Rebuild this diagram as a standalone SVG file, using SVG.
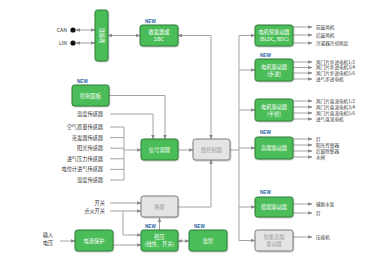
<svg xmlns="http://www.w3.org/2000/svg" width="378" height="258" viewBox="0 0 378 258">
<defs>
<marker id="ah" viewBox="0 0 6 6" refX="5.5" refY="3" markerWidth="4.5" markerHeight="4.5" markerUnits="userSpaceOnUse" orient="auto-start-reverse">
<path d="M0,0.5 L6,3 L0,5.5 z" fill="#8a8a8a"/>
</marker>
<filter id="sh" x="-10%" y="-10%" width="130%" height="140%">
<feDropShadow dx="0.6" dy="0.8" stdDeviation="0.6" flood-color="#000" flood-opacity="0.25"/>
</filter>
</defs>
<style>
text{font-family:"Noto Sans CJK SC","Liberation Sans",sans-serif;}
.g{fill:#4cbd58;stroke:#2c7a36;stroke-width:1;filter:url(#sh);}
.gr{fill:#e4e4e4;stroke:#7a7a7a;stroke-width:1;filter:url(#sh);}
.wt{fill:#fff;font-size:5.2px;text-anchor:middle;}
.gt{fill:#9a9a9a;font-size:5.2px;text-anchor:middle;}
.lbl{fill:#333;font-size:5.2px;}
.out{fill:#333;font-size:4.6px;}
.r{text-anchor:end;}
.new{fill:#1f5fa6;font-size:4.6px;font-weight:bold;font-family:"Liberation Sans",sans-serif;}
.c{fill:none;stroke:#9a9a9a;stroke-width:0.9;}
.a{marker-end:url(#ah);}
.b{marker-start:url(#ah);marker-end:url(#ah);}
</style>
<rect width="378" height="258" fill="#fff"/>

<g id="connectors">
<line class="c b" x1="76" y1="30" x2="95" y2="30"/>
<line class="c b" x1="76" y1="43" x2="95" y2="43"/>
<line class="c b" x1="108" y1="35.5" x2="140" y2="35.5"/>
<path class="c b" d="M178,35.5 H211 V139"/>
<path class="c a" d="M109,95.5 H165 V139"/>
<path class="c a" d="M110,114 H153 V139"/>
<path class="c" d="M110,127 H124 M110,137.6 H124 M110,148.2 H124 M110,158.8 H124 M110,169.4 H124 M110,180 H124 M124,127 V180"/>
<line class="c a" x1="124" y1="150" x2="141" y2="150"/>
<line class="c a" x1="178" y1="150" x2="193" y2="150"/>
<path class="c" d="M230,150 H239 M239,35.5 V240.5"/>
<line class="c a" x1="239" y1="35.5" x2="255" y2="35.5"/>
<line class="c a" x1="239" y1="70" x2="255" y2="70"/>
<line class="c a" x1="239" y1="110" x2="255" y2="110"/>
<line class="c a" x1="239" y1="148" x2="255" y2="148"/>
<line class="c a" x1="239" y1="207" x2="255" y2="207"/>
<line class="c a" x1="239" y1="240.5" x2="255" y2="240.5"/>
<g>
<line class="c a" x1="293" y1="27" x2="312" y2="27"/>
<line class="c a" x1="293" y1="35" x2="312" y2="35"/>
<line class="c a" x1="293" y1="43" x2="312" y2="43"/>
<line class="c a" x1="293" y1="62" x2="312" y2="62"/>
<line class="c a" x1="293" y1="67.5" x2="312" y2="67.5"/>
<line class="c a" x1="293" y1="73" x2="312" y2="73"/>
<line class="c a" x1="293" y1="79" x2="312" y2="79"/>
<line class="c a" x1="293" y1="101" x2="312" y2="101"/>
<line class="c a" x1="293" y1="107" x2="312" y2="107"/>
<line class="c a" x1="293" y1="113" x2="312" y2="113"/>
<line class="c a" x1="293" y1="119" x2="312" y2="119"/>
<line class="c a" x1="293" y1="139" x2="312" y2="139"/>
<line class="c a" x1="293" y1="145" x2="312" y2="145"/>
<line class="c a" x1="293" y1="151" x2="312" y2="151"/>
<line class="c a" x1="293" y1="157" x2="312" y2="157"/>
<line class="c a" x1="293" y1="204" x2="312" y2="204"/>
<line class="c a" x1="293" y1="213" x2="312" y2="213"/>
<line class="c a" x1="293" y1="237" x2="312" y2="237"/>
</g>
<line class="c a" x1="110" y1="203" x2="141" y2="203"/>
<line class="c a" x1="110" y1="211" x2="141" y2="211"/>
<path class="c a" d="M123,211 V235 H141"/>
<path class="c a" d="M178,207 H211 V160"/>
<line class="c a" x1="60" y1="241" x2="75" y2="241"/>
<line class="c a" x1="113" y1="245" x2="141" y2="245"/>
<line class="c a" x1="159.5" y1="230" x2="159.5" y2="218"/>
<line class="c b" x1="178" y1="241" x2="189" y2="241"/>
</g>

<g id="bus-labels">
<text class="lbl r" x="67" y="32">CAN</text>
<circle cx="73" cy="30" r="2.6" fill="#111"/>
<text class="lbl r" x="67" y="45">LIN</text>
<circle cx="73" cy="43" r="2.6" fill="#111"/>
</g>

<g id="connector">
<rect class="g" x="95" y="10" width="13" height="51" rx="2.5"/>
<text class="wt" transform="translate(101.5,35.5) rotate(90)" y="2">连接器</text>
</g>

<g id="sbc">
<text class="new" x="145" y="23">NEW</text>
<rect class="g" x="140" y="25" width="38" height="21" rx="2.5"/>
<text class="wt" x="159" y="34">收发器或</text>
<text class="wt" x="159" y="41">SBC</text>
</g>

<g id="panel">
<text class="new" x="77" y="83">NEW</text>
<rect class="g" x="72" y="85" width="37" height="21" rx="2.5"/>
<text class="wt" x="90.5" y="97.5">控制面板</text>
</g>

<g id="sensors">
<text class="lbl r" x="103" y="116">温度传感器</text>
<text class="lbl r" x="103" y="129">空气质量传感器</text>
<text class="lbl r" x="103" y="139.6">蒸发器传感器</text>
<text class="lbl r" x="103" y="150.2">阳光传感器</text>
<text class="lbl r" x="103" y="160.8">进气压力传感器</text>
<text class="lbl r" x="103" y="171.4">电位计进气传感器</text>
<text class="lbl r" x="103" y="182">湿度传感器</text>
</g>

<g id="signal">
<rect class="g" x="141" y="139" width="37" height="21" rx="2.5"/>
<text class="wt" x="159.5" y="151.5">信号调理</text>
</g>

<g id="mcu">
<rect class="gr" x="193" y="139" width="37" height="21" rx="2.5"/>
<text class="gt" x="211.5" y="151.5">微控制器</text>
</g>

<g id="motor-bldc">
<rect class="g" x="255" y="25" width="38" height="21" rx="2.5"/>
<text class="wt" x="274" y="34">电机预驱动器</text>
<text class="wt" x="274" y="41">(BLDC, BDC)</text>
<text class="out" x="316" y="28.6">前鼓风机</text>
<text class="out" x="316" y="36.6">后鼓风机</text>
<text class="out" x="316" y="44.6">冷凝器冷却风扇</text>
</g>

<g id="motor-stepper">
<text class="new" x="260" y="57">NEW</text>
<rect class="g" x="255" y="59" width="38" height="22" rx="2.5"/>
<text class="wt" x="274" y="68.5">电机驱动器</text>
<text class="wt" x="274" y="75.5">(步进)</text>
<text class="out" x="316" y="63.6">风门片步进电机1/2</text>
<text class="out" x="316" y="69.1">风门片步进电机3/4</text>
<text class="out" x="316" y="74.6">风门片步进电机5/6</text>
<text class="out" x="316" y="80.6">进气步进电机</text>
</g>

<g id="motor-halfbridge">
<rect class="g" x="255" y="99" width="38" height="22" rx="2.5"/>
<text class="wt" x="274" y="108.5">电机驱动器</text>
<text class="wt" x="274" y="115.5">(半桥)</text>
<text class="out" x="316" y="102.6">风门片直流电机1/2</text>
<text class="out" x="316" y="108.6">风门片直流电机3/4</text>
<text class="out" x="316" y="114.6">风门片直流电机5/6</text>
<text class="out" x="316" y="120.6">进气直流电机</text>
</g>

<g id="high-side">
<text class="new" x="260" y="134">NEW</text>
<rect class="g" x="255" y="137" width="38" height="22" rx="2.5"/>
<text class="wt" x="274" y="150">高端驱动器</text>
<text class="out" x="316" y="140.6">灯</text>
<text class="out" x="316" y="146.6">阳光传感器</text>
<text class="out" x="316" y="152.6">后窗除雾器</text>
<text class="out" x="316" y="158.6">水阀</text>
</g>

<g id="low-side">
<text class="new" x="260" y="194">NEW</text>
<rect class="g" x="255" y="197" width="38" height="20" rx="2.5"/>
<text class="wt" x="274" y="209">低端驱动器</text>
<text class="out" x="316" y="205.6">辅助水泵</text>
<text class="out" x="316" y="214.6">灯</text>
</g>

<g id="smart-high-side">
<rect class="gr" x="255" y="230" width="38" height="21" rx="2.5"/>
<text class="gt" x="274" y="239">智能高端</text>
<text class="gt" x="274" y="246">驱动器</text>
<text class="out" x="316" y="238.6">压缩机</text>
</g>

<g id="switches">
<text class="lbl r" x="105" y="205">开关</text>
<text class="lbl r" x="105" y="213">点火开关</text>
</g>

<g id="wake">
<rect class="gr" x="141" y="196" width="37" height="21" rx="2.5"/>
<text class="gt" x="159.5" y="208.5">唤醒</text>
</g>

<g id="input">
<text class="lbl" x="48" y="237" text-anchor="middle">输入</text>
<text class="lbl" x="48" y="245" text-anchor="middle">电压</text>
</g>

<g id="power-protect">
<rect class="g" x="75" y="230" width="38" height="21" rx="2.5"/>
<text class="wt" x="94" y="242.5">电源保护</text>
</g>

<g id="regulator">
<text class="new" x="145" y="228">NEW</text>
<rect class="g" x="141" y="230" width="37" height="21" rx="2.5"/>
<text class="wt" x="159.5" y="239">稳压</text>
<text class="wt" x="159.5" y="246">(线性、开关)</text>
</g>

<g id="monitor">
<text class="new" x="194" y="228">NEW</text>
<rect class="g" x="189" y="230" width="38" height="21" rx="2.5"/>
<text class="wt" x="208" y="242.5">监控</text>
</g>
</svg>
